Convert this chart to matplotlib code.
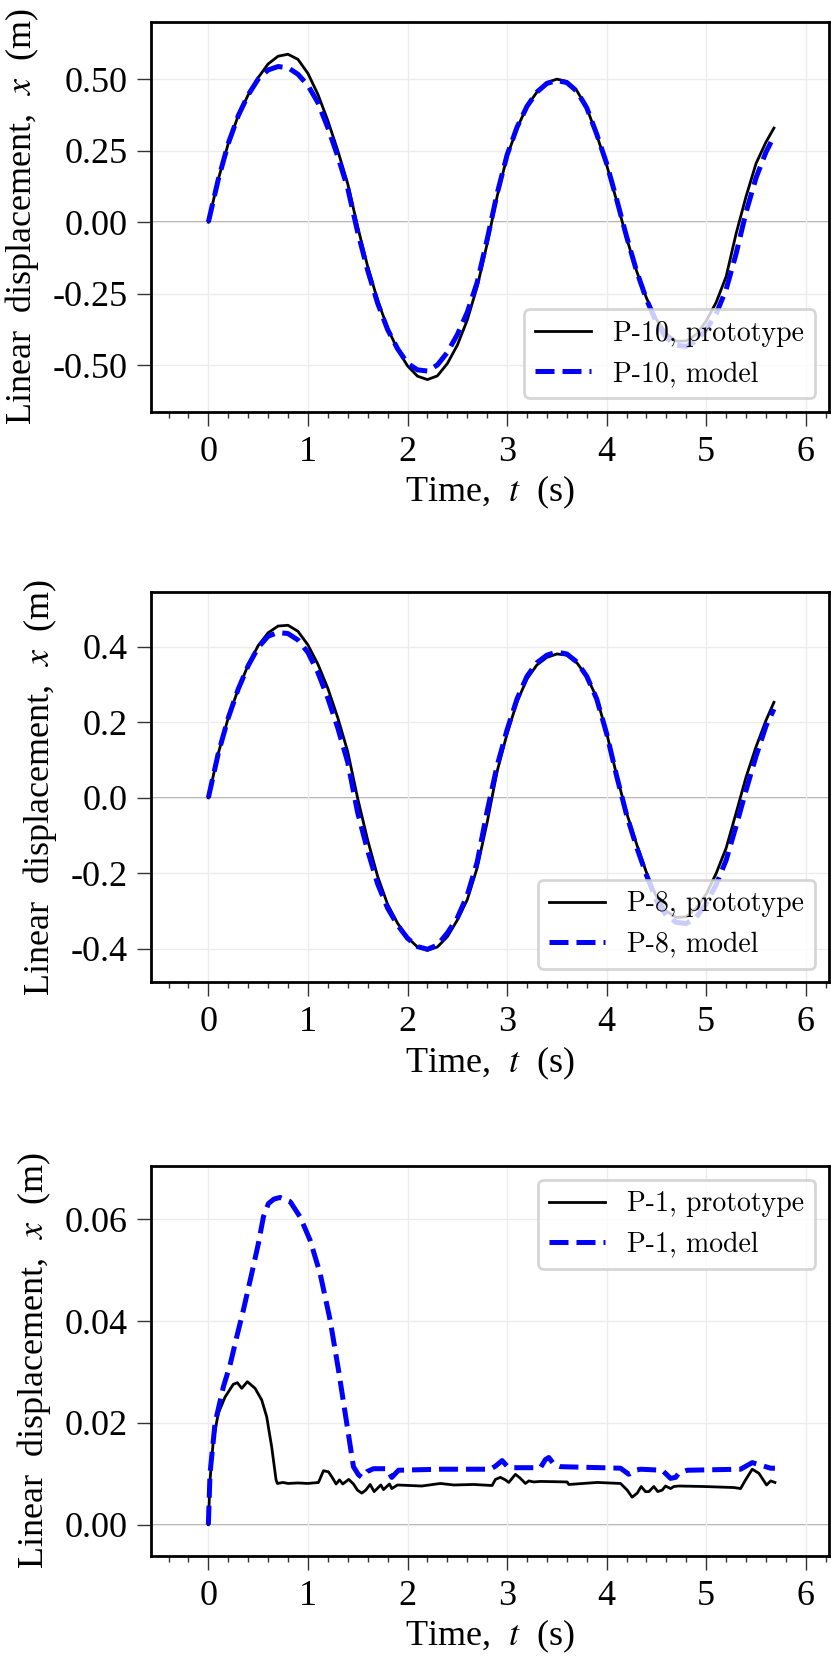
import numpy as np
import matplotlib.pyplot as plt
from matplotlib.ticker import MultipleLocator, FormatStrFormatter

plt.rcParams['font.family'] = ['Liberation Serif', 'DejaVu Serif']
plt.rcParams['mathtext.fontset'] = 'stix'
plt.rcParams['axes.unicode_minus'] = False

# time grid (s)
t_wave = [0.0, 0.1, 0.2, 0.3, 0.4, 0.5, 0.6, 0.7, 0.8, 0.9,
          1.0, 1.1, 1.2, 1.3, 1.4, 1.5, 1.6, 1.7, 1.8, 1.9,
          2.0, 2.1, 2.2, 2.3, 2.4, 2.5, 2.6, 2.7, 2.8, 2.9,
          3.0, 3.1, 3.2, 3.3, 3.4, 3.5, 3.6, 3.7, 3.8, 3.9,
          4.0, 4.1, 4.2, 4.3, 4.4, 4.5, 4.6, 4.7, 4.8, 4.9,
          5.0, 5.1, 5.2, 5.3, 5.4, 5.5, 5.6, 5.68]

# P-10
p10_proto = [0.0, 0.150, 0.275, 0.372, 0.445, 0.505, 0.553, 0.580, 0.587, 0.569,
             0.520, 0.447, 0.355, 0.250, 0.134, -0.017, -0.155, -0.272, -0.370, -0.445,
             -0.502, -0.538, -0.550, -0.537, -0.494, -0.430, -0.342, -0.225, -0.075, 0.090,
             0.230, 0.328, 0.405, 0.455, 0.488, 0.500, 0.492, 0.460, 0.400, 0.305,
             0.200, 0.075, -0.055, -0.170, -0.265, -0.340, -0.390, -0.416, -0.415, -0.392,
             -0.345, -0.280, -0.190, -0.040, 0.090, 0.205, 0.280, 0.329]
p10_model = [0.0, 0.150, 0.275, 0.372, 0.445, 0.500, 0.532, 0.544, 0.540, 0.517,
             0.478, 0.418, 0.330, 0.230, 0.118, -0.035, -0.168, -0.283, -0.375, -0.442,
             -0.493, -0.516, -0.520, -0.499, -0.455, -0.393, -0.315, -0.210, -0.060, 0.100,
             0.235, 0.332, 0.405, 0.455, 0.485, 0.495, 0.488, 0.458, 0.400, 0.308,
             0.205, 0.080, -0.050, -0.170, -0.270, -0.350, -0.405, -0.430, -0.434, -0.415,
             -0.375, -0.320, -0.235, -0.110, 0.035, 0.155, 0.245, 0.300]

# P-8
p8_proto = [0.0, 0.118, 0.212, 0.288, 0.352, 0.403, 0.437, 0.455, 0.457, 0.441,
            0.405, 0.354, 0.290, 0.212, 0.122, -0.002, -0.112, -0.208, -0.282, -0.332,
            -0.370, -0.395, -0.404, -0.395, -0.368, -0.324, -0.270, -0.185, -0.065, 0.070,
            0.170, 0.254, 0.315, 0.352, 0.372, 0.381, 0.378, 0.358, 0.322, 0.265,
            0.172, 0.060, -0.040, -0.122, -0.198, -0.262, -0.300, -0.317, -0.315, -0.292,
            -0.255, -0.200, -0.133, -0.040, 0.055, 0.135, 0.205, 0.253]
p8_model = [0.0, 0.118, 0.212, 0.288, 0.350, 0.398, 0.428, 0.438, 0.435, 0.418,
            0.385, 0.332, 0.264, 0.185, 0.094, -0.040, -0.140, -0.228, -0.292, -0.337,
            -0.372, -0.394, -0.401, -0.390, -0.358, -0.318, -0.258, -0.170, -0.035, 0.085,
            0.180, 0.262, 0.322, 0.358, 0.378, 0.386, 0.381, 0.360, 0.322, 0.262,
            0.170, 0.058, -0.045, -0.130, -0.205, -0.272, -0.312, -0.330, -0.333, -0.316,
            -0.280, -0.230, -0.165, -0.075, 0.020, 0.110, 0.190, 0.235]

# P-1
t_p1_proto = [0.0, 0.017, 0.05, 0.1, 0.168, 0.251, 0.291, 0.335, 0.392, 0.469,
              0.536, 0.586, 0.636, 0.68, 0.693, 0.75, 0.8, 0.9, 1.0, 1.106,
              1.156, 1.206, 1.24, 1.283, 1.317, 1.35, 1.41, 1.457, 1.497, 1.541,
              1.581, 1.625, 1.665, 1.732, 1.759, 1.819, 1.842, 1.9, 2.144, 2.33,
              2.464, 2.665, 2.85, 2.883, 2.933, 2.983, 3.017, 3.084, 3.134, 3.184,
              3.218, 3.268, 3.335, 3.603, 3.62, 3.905, 4.139, 4.206, 4.256, 4.307,
              4.347, 4.39, 4.424, 4.474, 4.514, 4.558, 4.591, 4.642, 4.675, 4.725,
              4.977, 5.278, 5.345, 5.395, 5.462, 5.529, 5.606, 5.647, 5.69]
x_p1_proto = [0.0, 0.0088, 0.0166, 0.0219, 0.0251, 0.0276, 0.0279, 0.0268, 0.0281, 0.0268,
              0.0245, 0.0212, 0.0153, 0.0088, 0.0081, 0.0083, 0.0081, 0.0082, 0.0081, 0.0083,
              0.0106, 0.0104, 0.0094, 0.0080, 0.0088, 0.0080, 0.0089, 0.0080, 0.0068, 0.0062,
              0.0068, 0.0079, 0.0065, 0.0078, 0.0069, 0.0080, 0.0071, 0.0078, 0.0076, 0.0081,
              0.0078, 0.0079, 0.0077, 0.0089, 0.0093, 0.0088, 0.0083, 0.0099, 0.0091, 0.0081,
              0.0086, 0.0084, 0.0085, 0.0084, 0.0079, 0.0083, 0.0081, 0.0068, 0.0054, 0.0062,
              0.0075, 0.0065, 0.0065, 0.0075, 0.0065, 0.0068, 0.0076, 0.0071, 0.0075, 0.0076,
              0.0075, 0.0073, 0.0071, 0.0088, 0.0109, 0.0101, 0.0078, 0.0086, 0.0083]
t_p1_model = [0.0, 0.017, 0.067, 0.151, 0.218, 0.285, 0.352, 0.436, 0.503, 0.553,
              0.603, 0.66, 0.72, 0.821, 0.921, 1.022, 1.122, 1.223, 1.307, 1.39, 1.457,
              1.508, 1.541, 1.591, 1.658, 1.792, 1.842, 1.91, 2.33, 2.832, 2.883,
              2.95, 3.0, 3.034, 3.335, 3.385, 3.419, 3.469, 3.536, 4.139, 4.223,
              4.29, 4.34, 4.558, 4.642, 4.692, 4.725, 4.809, 5.345, 5.462, 5.546,
              5.647, 5.69]
x_p1_model = [0.0, 0.0101, 0.0199, 0.0271, 0.0314, 0.0369, 0.0422, 0.0494, 0.0553, 0.0605,
              0.0631, 0.0640, 0.0643, 0.0635, 0.0605, 0.0559, 0.0494, 0.0402, 0.0304, 0.0199, 0.0114,
              0.0098, 0.0093, 0.0104, 0.0110, 0.0110, 0.0093, 0.0107, 0.0109, 0.0109, 0.0115,
              0.0126, 0.0115, 0.0112, 0.0112, 0.0128, 0.0132, 0.0119, 0.0114, 0.0111, 0.0099,
              0.0107, 0.0109, 0.0107, 0.0091, 0.0093, 0.0101, 0.0107, 0.0109, 0.0122, 0.0117,
              0.0111, 0.0111]

panels = [
    (t_wave, p10_proto, t_wave, p10_model, 'P-10', (-0.663, 0.700), 0.25, '%.2f', 'lower right'),
    (t_wave, p8_proto, t_wave, p8_model, 'P-8', (-0.489, 0.544), 0.2, '%.1f', 'lower right'),
    (t_p1_proto, x_p1_proto, t_p1_model, x_p1_model, 'P-1', (-0.00615, 0.0705), 0.02, '%.2f', 'upper right'),
]
bottoms = [0.7517, 0.4078, 0.0621]

fig = plt.figure(figsize=(8.31, 16.59), dpi=100)

for (tp, xp, tm, xm, name, ylim, ystep, yfmt, loc), b in zip(panels, bottoms):
    ax = fig.add_axes([0.1817, b, 0.8159, 0.2351])
    ax.grid(True, color='#ececec', lw=1.0, zorder=0)
    ax.axhline(0, color='#999999', lw=1.2, zorder=1)
    ax.plot(tp, xp, color='black', lw=2.0, label=name + ', prototype', zorder=3,
            solid_joinstyle='round')
    ax.plot(tm, xm, color='blue', lw=3.6, ls='--', dashes=(3.8, 1.6),
            label=name + ', model', zorder=4, dash_joinstyle='round')
    ax.set_xlim(-0.576, 6.233)
    ax.set_ylim(*ylim)
    ax.xaxis.set_major_locator(MultipleLocator(1))
    ax.xaxis.set_minor_locator(MultipleLocator(0.2))
    ax.yaxis.set_major_locator(MultipleLocator(ystep))
    ax.yaxis.set_major_formatter(FormatStrFormatter(yfmt))
    ax.tick_params(axis='both', which='major', length=10, width=1.0, color='#333333',
                   labelsize=26, pad=7)
    ax.tick_params(axis='x', which='minor', length=4.5, width=1.0, color='#333333')
    for s in ax.spines.values():
        s.set_linewidth(2.0)
    ax.set_xlabel(r'Time,  $t$  (s)', fontsize=26, labelpad=4)
    ax.set_ylabel(r'Linear  displacement,  $x$  (m)', fontsize=26, labelpad=8)
    leg = ax.legend(loc=loc, prop={'family': 'cmr10', 'size': 20},
                    handlelength=2.0, labelspacing=0.5, framealpha=0.8, fancybox=True)
    leg.get_frame().set_linewidth(2.0)
    leg.get_frame().set_edgecolor('#cccccc')

fig.savefig('out.png', dpi=100)
